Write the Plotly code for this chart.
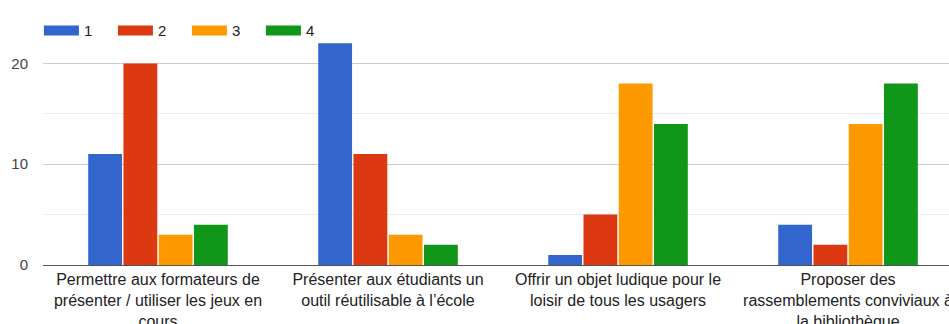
import plotly.graph_objects as go

categories = [
    "Permettre aux formateurs de<br>présenter / utiliser les jeux en<br>cours",
    "Présenter aux étudiants un<br>outil réutilisable à l’école",
    "Offrir un objet ludique pour le<br>loisir de tous les usagers",
    "Proposer des<br>rassemblements conviviaux à<br>la bibliothèque",
]
series_names = ["1", "2", "3", "4"]
values_1 = [11, 22, 1, 4]
values_2 = [20, 11, 5, 2]
values_3 = [3, 3, 18, 14]
values_4 = [4, 2, 14, 18]
series_values = [values_1, values_2, values_3, values_4]
colors = ["#3366cc", "#dc3912", "#ff9900", "#109618"]

FONT = "Liberation Sans, Arial, sans-serif"

fig = go.Figure()
for name, vals, col in zip(series_names, series_values, colors):
    fig.add_trace(go.Bar(x=categories, y=vals, name=name, marker_color=col,
                         marker_line_width=0, showlegend=False))
# legend entries (wide colour swatches)
for name, col in zip(series_names, colors):
    fig.add_trace(go.Scatter(x=[None], y=[None], mode="lines", name=name,
                             line=dict(color=col, width=14)))

fig.update_layout(
    width=949, height=324,
    template="none",
    margin=dict(l=43, r=0, t=13, b=59),
    paper_bgcolor="white", plot_bgcolor="white",
    barmode="group", bargap=0.387, bargroupgap=0.04,
    font=dict(family=FONT, size=15, color="#222"),
    legend=dict(orientation="h", x=-0.0045, xanchor="left", y=0.995, yanchor="top",
                bgcolor="rgba(0,0,0,0)", font=dict(size=15, color="#222"),
                itemwidth=35,
                entrywidth=24, entrywidthmode="pixels"),
    xaxis=dict(range=[-0.5, 3.439], automargin=False, showgrid=False,
               showline=True, linecolor="#555", linewidth=1,
               tickfont=dict(size=16, color="#222", family=FONT), ticks=""),
    yaxis=dict(range=[0, 25], dtick=10, tick0=0, automargin=False,
               showgrid=True, gridcolor="#cccccc", gridwidth=1,
               zeroline=False, showline=False, ticks="",
               ticklabelstandoff=14,
               tickfont=dict(size=15, color="#444", family=FONT),
               minor=dict(dtick=5, tick0=0, showgrid=True, gridcolor="#ebebeb", gridwidth=1)),
)

fig.write_html("out.html")
